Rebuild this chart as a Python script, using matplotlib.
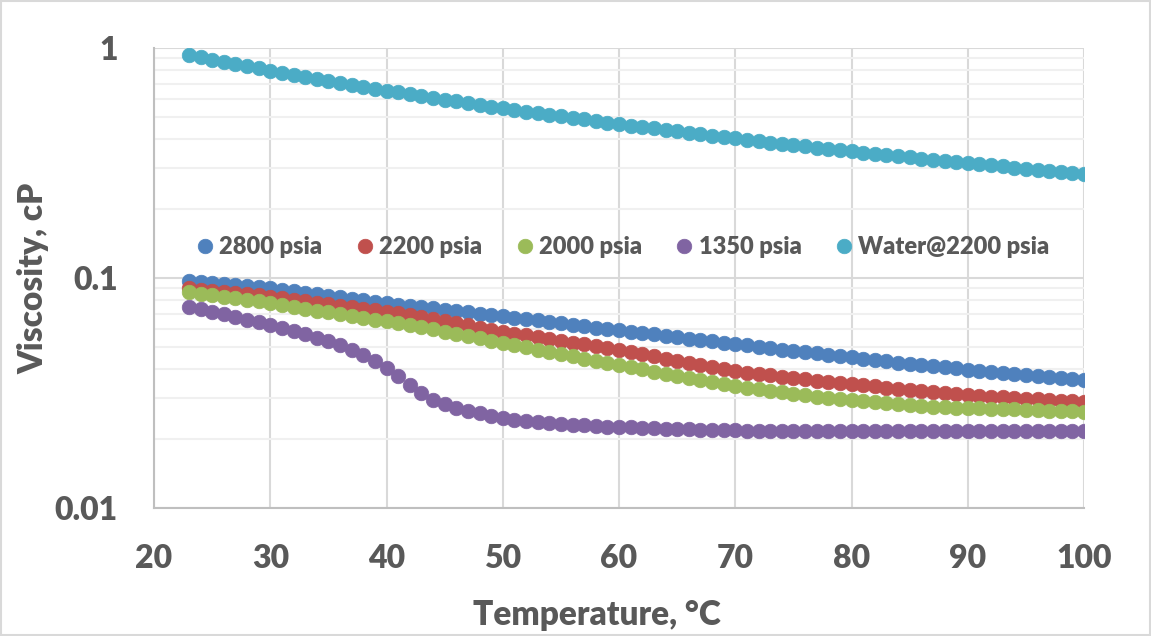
import matplotlib
matplotlib.use("Agg")
import matplotlib.pyplot as plt
from matplotlib.patches import Rectangle
from matplotlib.ticker import FixedLocator, FuncFormatter, NullFormatter

plt.rcParams["font.family"] = ["Lato", "DejaVu Sans"]
plt.rcParams["font.weight"] = "heavy"

# temperature, deg C
temps = list(range(23, 101))

# viscosity, cP
visc_2800 = [
    0.0973, 0.0963, 0.0953, 0.0943, 0.0932, 0.0922, 0.0911, 0.0900,
    0.0887, 0.0874, 0.0861, 0.0848, 0.0836, 0.0823, 0.0811, 0.0799, 0.0787, 0.0775,
    0.0765, 0.0755, 0.0746, 0.0737, 0.0727, 0.0718, 0.0709, 0.0700, 0.0691, 0.0682,
    0.0672, 0.0663, 0.0654, 0.0645, 0.0636, 0.0627, 0.0618, 0.0609, 0.0601, 0.0593,
    0.0585, 0.0577, 0.0569, 0.0561, 0.0553, 0.0545, 0.0537, 0.0530, 0.0523, 0.0516,
    0.0509, 0.0502, 0.0495, 0.0488, 0.0482, 0.0476, 0.0470, 0.0464, 0.0458, 0.0452,
    0.0446, 0.0440, 0.0435, 0.0429, 0.0424, 0.0419, 0.0414, 0.0409, 0.0404, 0.0399,
    0.0395, 0.0390, 0.0386, 0.0382, 0.0378, 0.0374, 0.0370, 0.0367, 0.0363, 0.0360,
]
visc_2200 = [
    0.0900, 0.0890, 0.0880, 0.0870, 0.0860, 0.0850, 0.0840, 0.0830,
    0.0818, 0.0806, 0.0794, 0.0782, 0.0770, 0.0759, 0.0748, 0.0736, 0.0725, 0.0714,
    0.0701, 0.0688, 0.0675, 0.0661, 0.0648, 0.0635, 0.0622, 0.0609, 0.0596, 0.0584,
    0.0573, 0.0563, 0.0553, 0.0543, 0.0533, 0.0524, 0.0514, 0.0505, 0.0495, 0.0486,
    0.0476, 0.0466, 0.0456, 0.0446, 0.0437, 0.0428, 0.0419, 0.0410, 0.0402, 0.0394,
    0.0388, 0.0382, 0.0377, 0.0372, 0.0367, 0.0362, 0.0357, 0.0353, 0.0350, 0.0347,
    0.0342, 0.0338, 0.0333, 0.0329, 0.0325, 0.0321, 0.0318, 0.0315, 0.0312, 0.0309,
    0.0307, 0.0305, 0.0303, 0.0301, 0.0299, 0.0297, 0.0295, 0.0293, 0.0292, 0.0290,
]
visc_2000 = [
    0.0867, 0.0855, 0.0843, 0.0830, 0.0817, 0.0805, 0.0792, 0.0780,
    0.0765, 0.0751, 0.0736, 0.0722, 0.0708, 0.0695, 0.0683, 0.0671, 0.0659, 0.0648,
    0.0635, 0.0622, 0.0610, 0.0597, 0.0585, 0.0572, 0.0559, 0.0546, 0.0534, 0.0522,
    0.0510, 0.0499, 0.0488, 0.0477, 0.0466, 0.0456, 0.0446, 0.0436, 0.0427, 0.0418,
    0.0409, 0.0400, 0.0391, 0.0383, 0.0375, 0.0367, 0.0360, 0.0353, 0.0346, 0.0340,
    0.0334, 0.0328, 0.0323, 0.0318, 0.0313, 0.0309, 0.0305, 0.0301, 0.0298, 0.0295,
    0.0292, 0.0289, 0.0286, 0.0283, 0.0280, 0.0278, 0.0276, 0.0274, 0.0273, 0.0272,
    0.0271, 0.0270, 0.0269, 0.0268, 0.0267, 0.0266, 0.0265, 0.0264, 0.0263, 0.0262,
]
visc_1350 = [
    0.0750, 0.0731, 0.0713, 0.0695, 0.0677, 0.0659, 0.0642, 0.0625,
    0.0607, 0.0589, 0.0570, 0.0551, 0.0532, 0.0510, 0.0487, 0.0463, 0.0436, 0.0406,
    0.0374, 0.0343, 0.0316, 0.0296, 0.0282, 0.0271, 0.0264, 0.0258, 0.0251, 0.0246,
    0.0242, 0.0239, 0.0236, 0.0234, 0.0232, 0.0230, 0.0229, 0.0227, 0.0226, 0.0225,
    0.0224, 0.0223, 0.0222, 0.0221, 0.0220, 0.0220, 0.0219, 0.0219, 0.0218, 0.0218,
    0.0217, 0.0217, 0.0217, 0.0217, 0.0217, 0.0217, 0.0217, 0.0216, 0.0216, 0.0216,
    0.0216, 0.0216, 0.0216, 0.0216, 0.0216, 0.0216, 0.0216, 0.0216, 0.0216, 0.0216,
    0.0216, 0.0216, 0.0216, 0.0216, 0.0216, 0.0216, 0.0216, 0.0216, 0.0216, 0.0216,
]
visc_water = [
    0.932, 0.911, 0.890, 0.870, 0.851, 0.833, 0.815, 0.797,
    0.781, 0.765, 0.749, 0.734, 0.719, 0.705, 0.692, 0.678, 0.666, 0.653,
    0.641, 0.629, 0.618, 0.607, 0.596, 0.586, 0.576, 0.566, 0.556, 0.547,
    0.538, 0.529, 0.521, 0.512, 0.504, 0.496, 0.489, 0.481, 0.474, 0.467,
    0.460, 0.453, 0.447, 0.440, 0.434, 0.428, 0.422, 0.416, 0.410, 0.404,
    0.399, 0.394, 0.388, 0.383, 0.378, 0.373, 0.369, 0.364, 0.359, 0.355,
    0.351, 0.346, 0.342, 0.338, 0.334, 0.330, 0.327, 0.323, 0.319, 0.316,
    0.312, 0.309, 0.306, 0.302, 0.299, 0.296, 0.293, 0.290, 0.287, 0.284,
]

labels = ["2800 psia", "2200 psia", "2000 psia", "1350 psia", "Water@2200 psia"]
series = [visc_2800, visc_2200, visc_2000, visc_1350, visc_water]
colors = ["#4F81BD", "#C0504D", "#9BBB59", "#8064A2", "#4BACC6"]

text_color = "#595959"

fig = plt.figure(figsize=(11.51, 6.36), dpi=100)
ax = fig.add_axes([0.1338, 0.2013, 0.808, 0.7233])

for vals, lab, col in zip(series, labels, colors):
    ax.plot(temps, vals, linestyle="none", marker="o", markersize=10.5,
            markerfacecolor=col, markeredgecolor=col, markeredgewidth=0.5,
            label=lab, zorder=3)

ax.set_yscale("log")
ax.set_xlim(20, 100)
ax.set_ylim(0.01, 1)

ax.xaxis.set_major_locator(FixedLocator(range(20, 101, 10)))
ax.yaxis.set_major_locator(FixedLocator([0.01, 0.1, 1]))
minor = [m * d for d in (0.01, 0.1) for m in range(2, 10)]
ax.yaxis.set_minor_locator(FixedLocator(minor))
ax.yaxis.set_major_formatter(FuncFormatter(lambda v, p: f"{v:g}"))
ax.yaxis.set_minor_formatter(NullFormatter())

ax.grid(True, which="major", axis="both", color="#D9D9D9", linewidth=1.5, zorder=0)
ax.grid(True, which="minor", axis="y", color="#F0F0F0", linewidth=1.5, zorder=0)
ax.set_axisbelow(True)

for side in ("top", "right"):
    ax.spines[side].set_visible(False)
for side in ("left", "bottom"):
    ax.spines[side].set_color("#BFBFBF")
    ax.spines[side].set_linewidth(1.5)

ax.tick_params(which="both", length=0, labelsize=23, labelcolor=text_color)
ax.tick_params(axis="y", pad=26)
ax.tick_params(axis="x", pad=26)
for t in ax.get_xticklabels() + ax.get_yticklabels():
    t.set_fontweight("heavy")

ax.set_xlabel("Temperature, °C", fontsize=24, fontweight="heavy", color=text_color)
ax.set_ylabel("Viscosity, cP", fontsize=24, fontweight="heavy", color=text_color)
ax.xaxis.set_label_coords(0.476, -0.197)
ax.yaxis.set_label_coords(-0.112, 0.5)

leg = ax.legend(loc="center", bbox_to_anchor=(0.505, 0.567), ncol=5, frameon=False,
                prop={"size": 17, "weight": "heavy"}, handlelength=0.6,
                handletextpad=0.3, columnspacing=1.5, markerscale=1.0)
for t in leg.get_texts():
    t.set_color(text_color)

fig.patches.append(Rectangle((0.001, 0.001), 0.998, 0.997, transform=fig.transFigure,
                             fill=False, edgecolor="#D9D9D9", linewidth=1.5))

fig.savefig("out.png", dpi=100)
